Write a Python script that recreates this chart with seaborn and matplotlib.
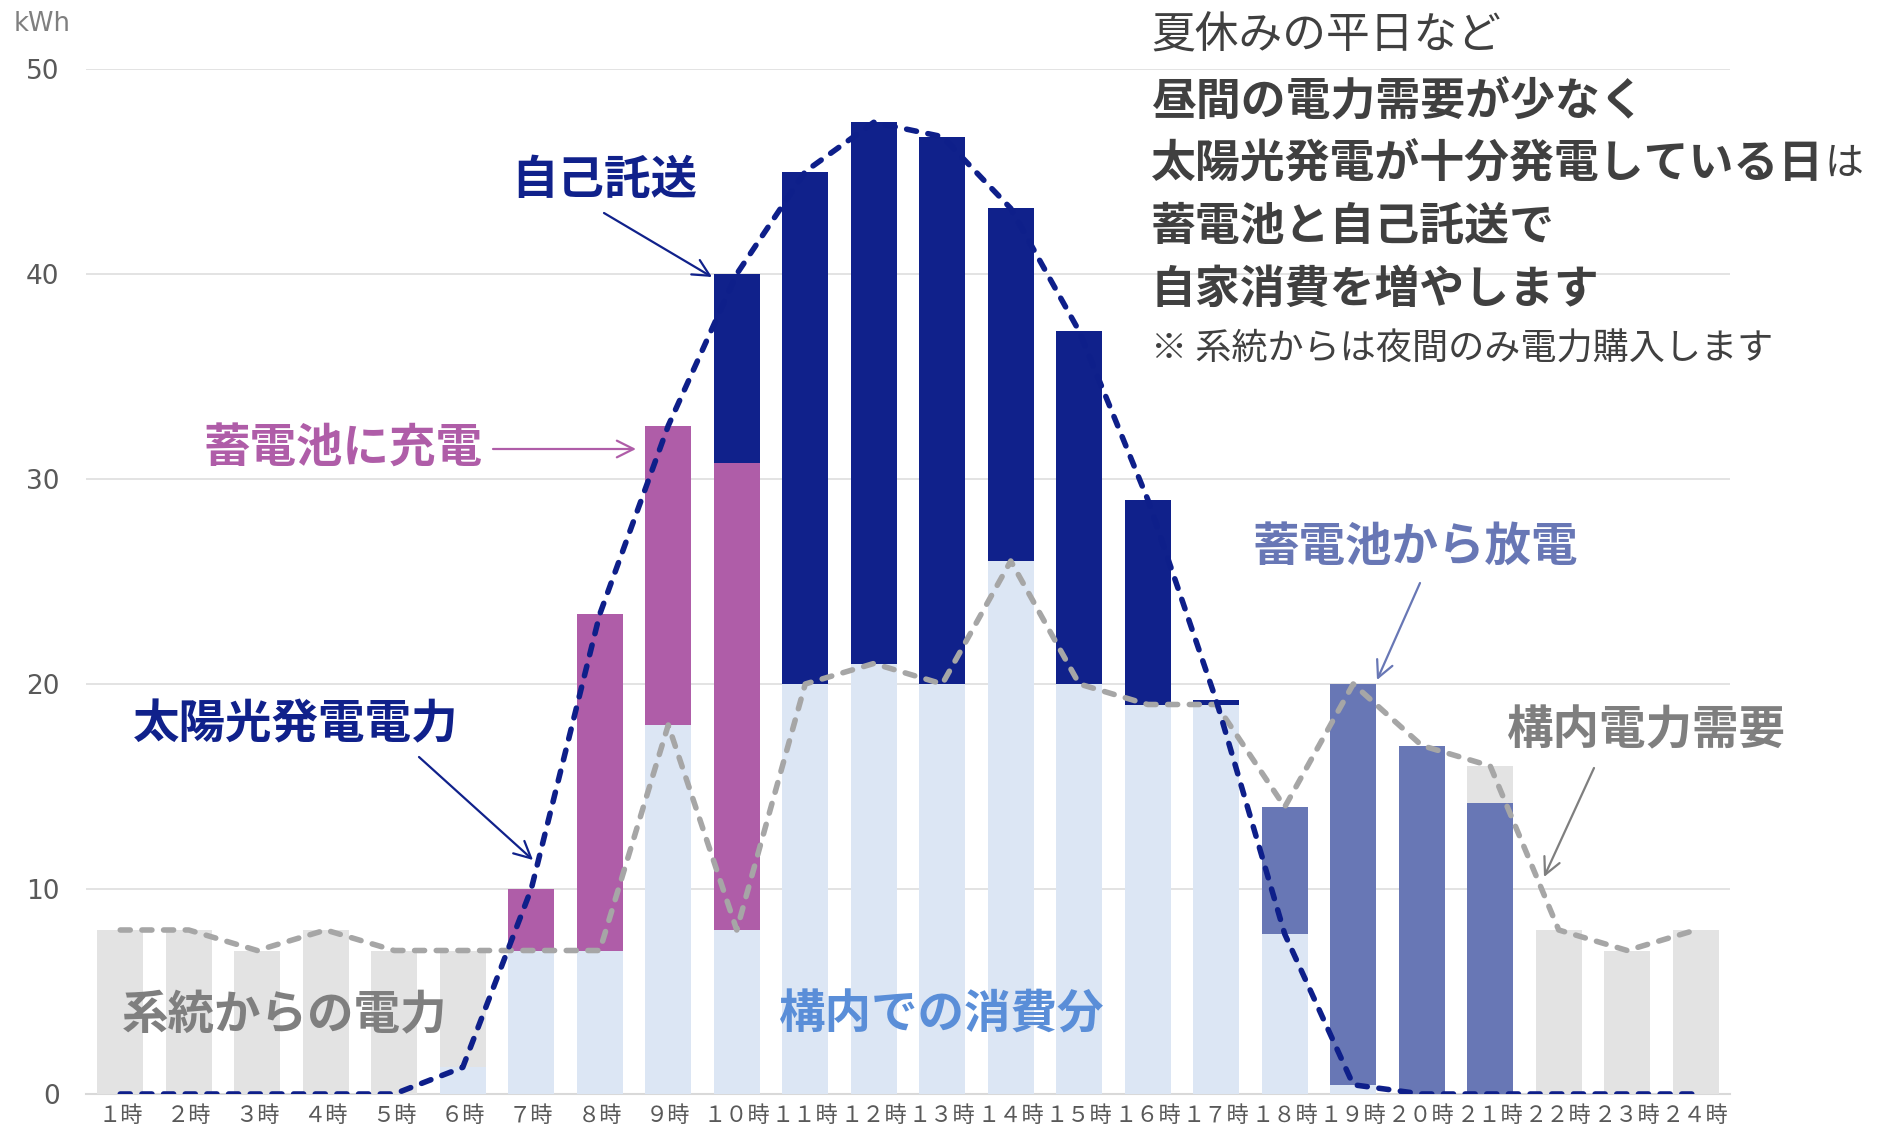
import numpy as np
import matplotlib
matplotlib.use("Agg")
import matplotlib.pyplot as plt
import seaborn as sns

# ---------------- data ----------------
hours = ["１時", "２時", "３時", "４時", "５時", "６時", "７時", "８時", "９時", "１０時",
         "１１時", "１２時", "１３時", "１４時", "１５時", "１６時", "１７時", "１８時",
         "１９時", "２０時", "２１時", "２２時", "２３時", "２４時"]

# 構内での消費分 (solar used on site)
self_use = [0, 0, 0, 0, 0, 1.3, 7, 7, 18, 8, 20, 21, 20, 26, 20, 19, 19, 7.8, 0.45, 0, 0, 0, 0, 0]
# 蓄電池に充電
charge = [0, 0, 0, 0, 0, 0, 3, 16.4, 14.6, 22.8, 0, 0, 0, 0, 0, 0, 0, 0, 0, 0, 0, 0, 0, 0]
# 自己託送
wheeling = [0, 0, 0, 0, 0, 0, 0, 0, 0, 9.2, 25, 26.4, 26.7, 17.2, 17.2, 10, 0.2, 0, 0, 0, 0, 0, 0, 0]
# 蓄電池から放電
discharge = [0, 0, 0, 0, 0, 0, 0, 0, 0, 0, 0, 0, 0, 0, 0, 0, 0, 6.2, 19.55, 17, 14.2, 0, 0, 0]
# 系統からの電力
grid = [8, 8, 7, 8, 7, 5.7, 0, 0, 0, 0, 0, 0, 0, 0, 0, 0, 0, 0, 0, 0, 1.8, 8, 7, 8]

# lines
solar = [0, 0, 0, 0, 0, 1.3, 10, 23.4, 32.6, 40, 45, 47.4, 46.7, 43.2, 37.2, 29, 19.2, 7.8, 0.45, 0, 0, 0, 0, 0]
demand = [8, 8, 7, 8, 7, 7, 7, 7, 18, 8, 20, 21, 20, 26, 20, 19, 19, 14, 20, 17, 16, 8, 7, 8]

y_ticks = [0, 10, 20, 30, 40, 50]

# ---------------- style ----------------
C_SELF = "#DCE6F4"
C_CHARGE = "#AF5DA8"
C_WHEEL = "#10218B"
C_DIS = "#6877B5"
C_GRID = "#E3E3E3"
C_SOLAR_LINE = "#0E1F8A"
C_DEM_LINE = "#A6A6A6"
C_TEXT = "#404040"

sns.set_theme(style="white")
plt.rcParams['font.family'] = ['Noto Sans CJK JP', 'DejaVu Sans']

W, H = 1877, 1130
fig = plt.figure(figsize=(W / 100, H / 100), dpi=100)
ax = fig.add_axes([86 / W, 1 - 1094 / H, (1730 - 86) / W, (1094 - 69) / H])

# stacked bars: draw cumulative totals from the top layer down
layers = np.array([self_use, charge, wheeling, discharge, grid], dtype=float)
tops = np.cumsum(layers, axis=0)
colors = [C_SELF, C_CHARGE, C_WHEEL, C_DIS, C_GRID]
for i in range(len(layers) - 1, -1, -1):
    sns.barplot(x=hours, y=tops[i], order=hours, color=colors[i], saturation=1,
                width=0.667, errorbar=None, ax=ax, zorder=2, linewidth=0)

xpos = np.arange(len(hours))
n_before = len(ax.lines)
sns.lineplot(x=xpos, y=demand, ax=ax, color=C_DEM_LINE, zorder=4, linewidth=4.0,
             linestyle=(0, (1.8, 2.1)), dash_capstyle='round')
sns.lineplot(x=xpos, y=solar, ax=ax, color=C_SOLAR_LINE, zorder=5, linewidth=4.0,
             linestyle=(0, (1.8, 2.1)), dash_capstyle='round')
for ln in ax.lines[n_before:]:
    ln.set_linewidth(4.0)
    ln.set_linestyle((0, (1.8, 2.1)))
    ln.set_dash_capstyle('round')

ax.set_xlim(-0.5, len(hours) - 0.5)
ax.set_ylim(0, 50)
ax.set_yticks(y_ticks)
ax.set_yticklabels([str(v) for v in y_ticks], fontfamily='DejaVu Sans')
ax.set_xticks(xpos)
ax.set_xticklabels(hours)
ax.tick_params(axis='y', length=0, pad=19, labelsize=19, labelcolor="#595959")
ax.tick_params(axis='x', length=0, pad=7, labelsize=16, labelcolor="#595959")
ax.grid(axis='y', color="#DEDEDE", lw=1.2, zorder=0)
ax.set_axisbelow(True)
ax.set_xlabel("")
ax.set_ylabel("")
for s in ["left", "right", "top"]:
    ax.spines[s].set_visible(False)
ax.spines["bottom"].set_color("#D9D9D9")
ax.spines["bottom"].set_linewidth(1.5)
ax.spines["bottom"].set_zorder(1)

# ---------------- texts ----------------
def fx(px):
    return px / W

def fy(py):
    return 1 - py / H

fig.text(fx(42), fy(24), "kWh", fontsize=18.5, color="#7F7F7F", ha='center', va='center',
         fontfamily='DejaVu Sans')

labels = [
    ("自己託送", 604, 180, C_WHEEL),
    ("蓄電池に充電", 343, 449, C_CHARGE),
    ("太陽光発電電力", 296, 724, C_WHEEL),
    ("蓄電池から放電", 1415, 547, C_DIS),
    ("構内電力需要", 1646, 730, "#7F7F7F"),
    ("系統からの電力", 285, 1015, "#7F7F7F"),
    ("構内での消費分", 942, 1015, "#5A8ED8"),
]
for t, x, y, c in labels:
    fig.text(fx(x), fy(y), t, fontsize=33.5, fontweight='bold', color=c,
             ha='center', va='center', zorder=10)

arrows = [
    ((604, 213), (712, 277), C_WHEEL),
    ((493, 449), (636, 449), C_CHARGE),
    ((419, 757), (533, 860), C_WHEEL),
    ((1420, 583), (1377, 680), C_DIS),
    ((1594, 768), (1544, 877), "#7F7F7F"),
]
for (x0, y0), (x1, y1), c in arrows:
    ax.annotate("", xy=(x1, H - y1), xycoords='figure pixels',
                xytext=(x0, H - y0), textcoords='figure pixels',
                arrowprops=dict(arrowstyle='->', color=c, lw=1.6,
                                mutation_scale=30, shrinkA=0, shrinkB=0),
                annotation_clip=False, zorder=10)

LX = 1151
fig.text(fx(LX), fy(36), "夏休みの平日など", fontsize=31.5, color=C_TEXT, ha='left', va='center')
fig.text(fx(LX), fy(102), "昼間の電力需要が少なく", fontsize=32.3, fontweight='bold',
         color=C_TEXT, ha='left', va='center')
t3 = fig.text(fx(LX), fy(164), "太陽光発電が十分発電している日", fontsize=32.3, fontweight='bold',
              color=C_TEXT, ha='left', va='center')
fig.text(fx(LX), fy(227), "蓄電池と自己託送で", fontsize=32.3, fontweight='bold',
         color=C_TEXT, ha='left', va='center')
fig.text(fx(LX), fy(290), "自家消費を増やします", fontsize=32.3, fontweight='bold',
         color=C_TEXT, ha='left', va='center')
fig.text(fx(LX), fy(350), "※ 系統からは夜間のみ電力購入します", fontsize=26,
         color=C_TEXT, ha='left', va='center')

fig.canvas.draw()
bb = t3.get_window_extent(renderer=fig.canvas.get_renderer())
fig.text(bb.x1 / W, fy(164), "は", fontsize=28, color=C_TEXT, ha='left', va='center')

fig.savefig("out.png", dpi=100)
